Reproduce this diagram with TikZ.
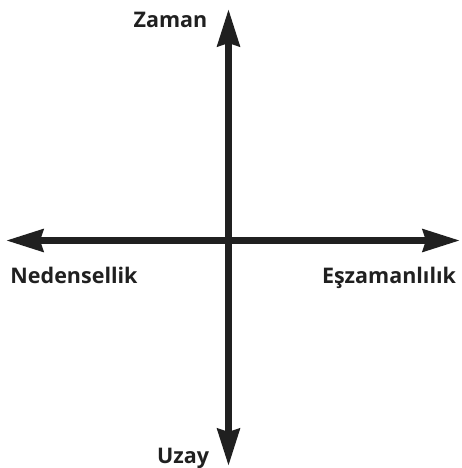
\documentclass[tikz,border=0pt]{standalone}
\usepackage{fontspec}
\setmainfont{Open Sans}
\usetikzlibrary{arrows.meta}
\definecolor{ink}{HTML}{202020}
\tikzset{
  axis/.style={draw=ink, line width=7pt, {Stealth[length=37pt,width=22pt,inset=3pt]}-{Stealth[length=37pt,width=22pt,inset=3pt]}},
  lbl/.style={anchor=base, text=ink, font=\bfseries\fontsize{21.5}{25}\selectfont, inner sep=0pt}
}
\begin{document}
\begin{tikzpicture}[x=1pt,y=-1pt]
\useasboundingbox (0,0) rectangle (462,468);
\coordinate (T) at (228.5,9);
\coordinate (B) at (228.5,466);
\coordinate (L) at (6,240.5);
\coordinate (R) at (460,240.5);
\draw[axis] (L) -- (R);
\draw[axis] (B) -- (T);
\node[lbl] (zaman) at (170.5,28) {Zaman};
\node[lbl] (neden) at (74,283) {Nedensellik};
\node[lbl] (esz) at (389,283) {Eşzamanlılık};
\node[lbl] (uzay) at (183,463) {Uzay};
\end{tikzpicture}
\end{document}
